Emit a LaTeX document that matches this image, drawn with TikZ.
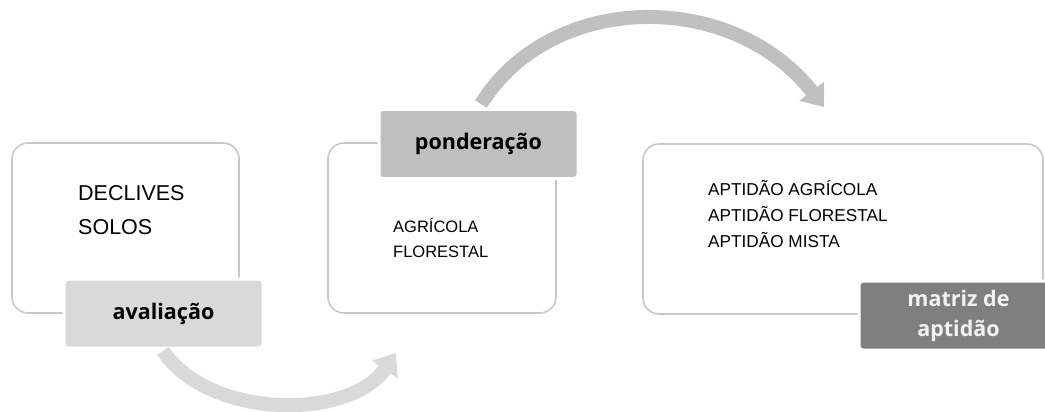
\documentclass[tikz,border=0pt]{standalone}
\usepackage{fontspec}
\setmainfont{Liberation Sans}
\newfontfamily\labelfont{Open Sans}
\usetikzlibrary{arrows.meta}
\definecolor{outline}{HTML}{C8C8C8}
\definecolor{lab1}{HTML}{D9D9D9}
\definecolor{lab2}{HTML}{BFBFBF}
\definecolor{lab3}{HTML}{7F7F7F}
\definecolor{arrtop}{HTML}{C0C0C0}
\definecolor{arrbot}{HTML}{D9D9D9}
\definecolor{labtxt}{HTML}{F2F2F2}
\tikzset{
  panel/.style={draw=outline, line width=1.6pt, rounded corners=16pt, fill=white, inner sep=0pt},
  tag/.style={draw=white, line width=3pt, rounded corners=4pt, inner sep=0pt,
    minimum width=199pt, minimum height=69pt, font=\labelfont\bfseries\fontsize{21.5}{30}\selectfont, align=center},
  listbig/.style={anchor=base west, inner sep=0pt, font=\fontsize{21.5}{26}\selectfont},
  listmid/.style={anchor=base west, inner sep=0pt, font=\fontsize{16.5}{20}\selectfont},
  listsm/.style={anchor=base west, inner sep=0pt, font=\fontsize{17.2}{20}\selectfont},
  bigarrow/.style={line width=14pt, -{Triangle[length=20pt,width=30pt]}},
}
\begin{document}
\begin{tikzpicture}[x=1pt,y=-1pt]
\clip (0,0) rectangle (1045,412);
\fill[white] (0,0) rectangle (1045,412);
% panels
\node[panel, minimum width=227pt, minimum height=170pt] (p1) at (125.5,228) {};
\node[panel, minimum width=228pt, minimum height=170pt] (p2) at (442,228) {};
\node[panel, minimum width=400pt, minimum height=170pt] (p3) at (843,229) {};
% texts
\node[listbig] (d1) at (78,200.5) {DECLIVES};
\node[listbig] (d2) at (78,234) {SOLOS};
\node[listmid] (a1) at (393,232) {AGRÍCOLA};
\node[listmid] (a2) at (393,257) {FLORESTAL};
\node[listsm] (m1) at (708,195) {APTIDÃO AGRÍCOLA};
\node[listsm] (m2) at (708,221) {APTIDÃO FLORESTAL};
\node[listsm] (m3) at (708,247) {APTIDÃO MISTA};
% tags
\node[tag, fill=lab1] (t1) at (163.5,313.5) {avaliação};
\node[tag, fill=lab2] (t2) at (478.5,144) {ponderação};
\node[tag, fill=lab3, text=labtxt] (t3) at (958.5,315.5) {matriz de\\aptidão};
% arrows
\coordinate (s1) at (163,351);
\coordinate (e1) at (396,353);
\coordinate (s2) at (481,104);
\coordinate (e2) at (824,107);
\draw[bigarrow, draw=arrbot] (s1) .. controls (210,420) and (350,420) .. (e1);
\draw[bigarrow, draw=arrtop] (s2) .. controls (552,-10) and (733,-10) .. (e2);
\end{tikzpicture}
\end{document}
